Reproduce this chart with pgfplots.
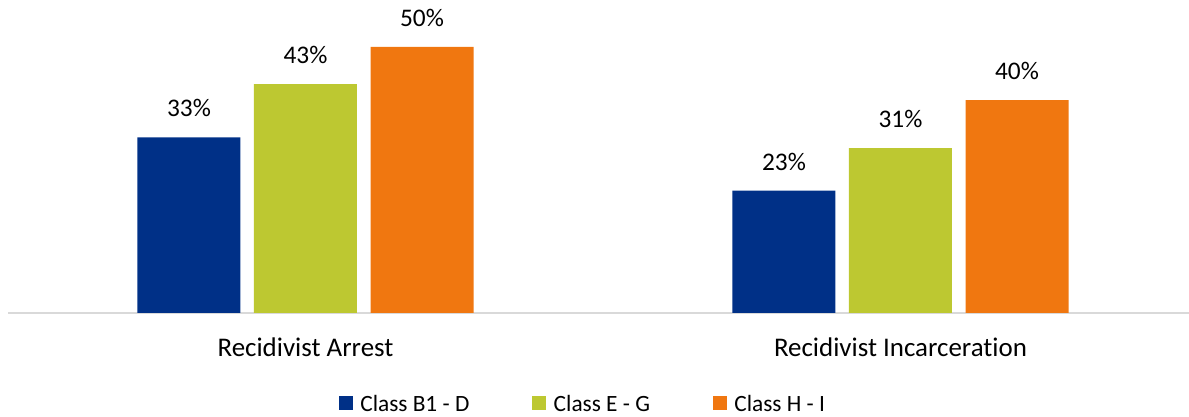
\documentclass[border=0pt]{standalone}
\usepackage{pgfplots}
\pgfplotsset{compat=1.18}
\usepackage{fontspec}
\setmainfont{Carlito}[Ligatures={NoCommon}]

\definecolor{cBlue}{RGB}{0,48,135}
\definecolor{cLime}{RGB}{189,200,49}
\definecolor{cOrange}{RGB}{240,119,16}
\definecolor{axisgray}{RGB}{217,217,217}

\begin{document}
\begin{tikzpicture}
% 1 px of the reference = 0.75pt
\path[use as bounding box] (-6pt,-78pt) rectangle (885.75pt,234.75pt);
\begin{axis}[
    at={(0,0)}, anchor=south west,
    scale only axis,
    width=885.75pt, height=234.75pt,
    xmin=-0.5, xmax=1.4849,
    ymin=0, ymax=58.83,
    axis x line=bottom,
    axis y line=none,
    axis line style={draw=axisgray, line width=1.5pt, -},
    xtick={0,1},
    xticklabels={Recidivist Arrest, Recidivist Incarceration},
    major tick length=0pt,
    xticklabel style={anchor=base, yshift=-33pt, font=\fontsize{20.2}{24}\selectfont},
    ybar=0pt,
    bar width=77.25pt,
    every axis plot/.append style={draw=none},
    nodes near coords={\pgfmathprintnumber[assume math mode=true]{\pgfplotspointmeta}\%},
    every node near coord/.append style={anchor=south, inner sep=0pt, yshift=15pt,
        font=\fontsize{19}{22}\selectfont, text=black},
    legend columns=-1,
    legend style={draw=none, fill=none, at={(0.487,0)}, anchor=center, yshift=-68.25pt,
        font=\fontsize{17.5}{20}\selectfont,
        /tikz/every odd column/.style={column sep=3.75pt},
        /tikz/every even column/.style={column sep=45pt}},
    legend image code/.code={\fill[#1] (0pt,-4.5pt) rectangle (10.5pt,6pt);},
]
\addplot[fill=cBlue, bar shift=-87.4pt] coordinates {(0,33) (1,23)};
\addplot[fill=cLime, bar shift=0pt] coordinates {(0,43) (1,31)};
\addplot[fill=cOrange, bar shift=87.4pt] coordinates {(0,50) (1,40)};
\legend{Class B1 - D, Class E - G, Class H - I}
\end{axis}
\end{tikzpicture}
\end{document}
